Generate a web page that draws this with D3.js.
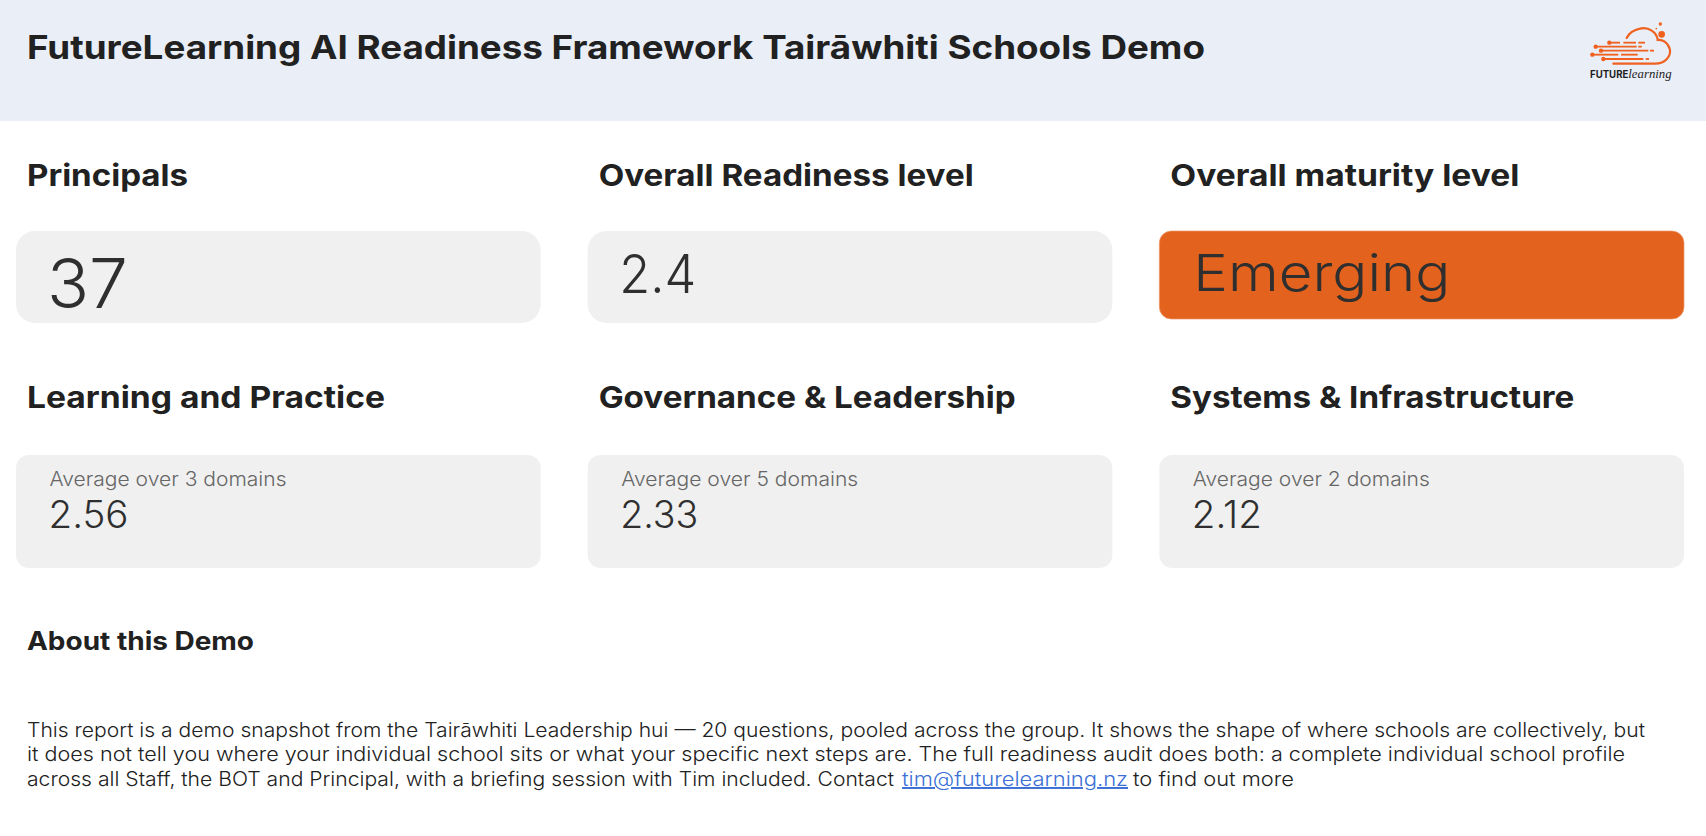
<!DOCTYPE html>
<html>
<head>
<meta charset="utf-8">
<script src="https://cdn.jsdelivr.net/npm/d3@7"></script>
<style>
html,body{margin:0;padding:0;background:#fff;overflow:hidden}
svg{display:block}
text{font-family:Inter,"Noto Sans",sans-serif;fill:#212121}
</style>
</head>
<body>
<script>
var width = 1706;
var height = 836;

// content
var pageTitle = "FutureLearning AI Readiness Framework Tairāwhiti Schools Demo";
var topTitles = ["Principals","Overall Readiness level","Overall maturity level"];
var topValues = ["37","2.4","Emerging"];
var pillarTitles = ["Learning and Practice","Governance & Leadership","Systems & Infrastructure"];
var pillarDomains = [3,5,2];
var pillarScores = [2.56,2.33,2.12];
var aboutTitle = "About this Demo";
var aboutLines = [
	"This report is a demo snapshot from the Tairāwhiti Leadership hui — 20 questions, pooled across the group. It shows the shape of where schools are collectively, but",
	"it does not tell you where your individual school sits or what your specific next steps are. The full readiness audit does both: a complete individual school profile",
	"across all Staff, the BOT and Principal, with a briefing session with Tim included. Contact"
];
var linkText = "tim@futurelearning.nz";
var afterLink = "to find out more";

// measured text widths, the font here is not the original one
var topTitleW = [161,375,349];
var topValueW = [81,77,257];
var pillarTitleW = [358,417,404];
var noteW = [237,237,237];
var scoreW = [80,78,70];
var aboutW = [1618,1598,867];

var svg = d3.select("body")
.append("svg")
.attr("width",width)
.attr("height",height);

var col = d3.scaleBand()
.domain([0,1,2])
.range([16,1684])
.paddingInner(0.0822);

function label(x,y,txt,size,weight,w,color){
	var t = svg.append("text")
	.attr("x",x)
	.attr("y",y)
	.attr("font-size",size)
	.attr("font-weight",weight)
	.text(txt);
	if(w){
		t.attr("textLength",w).attr("lengthAdjust","spacingAndGlyphs");
	}
	if(color){
		t.style("fill",color);
	}
	return t;
}

// header
svg.append("rect")
.attr("width",width)
.attr("height",121)
.attr("fill","#e9eef7");

label(27,59,pageTitle,33,700,1178);

// top row
topTitles.forEach(function(d,i){
	label(col(i)+11,186,d,30,700,topTitleW[i]);
});

svg.selectAll(".top")
.data(topValues)
.enter()
.append("rect")
.attr("class","top")
.attr("x",function(d,i){return col(i);})
.attr("y",231)
.attr("width",col.bandwidth())
.attr("height",function(d,i){return i == 2 ? 88 : 92;})
.attr("rx",function(d,i){return i == 2 ? 12 : 19;})
.attr("fill",function(d,i){return i == 2 ? "#e3621e" : "#f0f0f0";})
.attr("stroke",function(d,i){return i == 2 ? "#ee9a6c" : "none";})
.attr("stroke-width",0.7);

label(col(0)+31,308,topValues[0],68,300,topValueW[0],"#2f2f2f");
label(col(1)+31.5,293,topValues[1],54,300,topValueW[1],"#2f2f2f");
label(col(2)+34,291,topValues[2],51,300,topValueW[2],"#2f2f2f");

// pillars
pillarTitles.forEach(function(d,i){
	label(col(i)+11,408,d,30,700,pillarTitleW[i]);
});

svg.selectAll(".pillar")
.data(pillarScores)
.enter()
.append("rect")
.attr("class","pillar")
.attr("x",function(d,i){return col(i);})
.attr("y",455)
.attr("width",col.bandwidth())
.attr("height",113)
.attr("rx",13)
.attr("fill","#f0f0f0");

pillarScores.forEach(function(d,i){
	label(col(i)+33.5,486,"Average over "+pillarDomains[i]+" domains",19.5,300,noteW[i],"#666666");
	label(col(i)+32.5,528,d3.format(".2f")(d),38,300,scoreW[i],"#2f2f2f");
});

// about
label(27,650,aboutTitle,25,700,227);

var lineY = [737,761,786];
aboutLines.forEach(function(d,i){
	label(27,lineY[i],d,19.5,300,aboutW[i]);
});
label(902,lineY[2],linkText,19.5,300,226,"#3b6fd6")
.style("text-decoration","underline");
label(1133,lineY[2],afterLink,19.5,300,161);

// logo
var logo = svg.append("g")
.attr("transform","translate(1575,12) scale(0.3333)");

var orange = "#f0601e";

logo.append("path")
.attr("d","M115,155 L240,155 C272,155 290,130 284,110 C278,90 262,82 248,84 C246,60 220,44 195,50 C175,54 162,64 155,78")
.attr("fill","none")
.attr("stroke",orange)
.attr("stroke-width",6.5)
.attr("stroke-linecap","round");

var dots = [[260,67,10],[256,36,5],[244,50,2.5]];
logo.selectAll(".puff")
.data(dots)
.enter()
.append("circle")
.attr("class","puff")
.attr("cx",function(d){return d[0];})
.attr("cy",function(d){return d[1];})
.attr("r",function(d){return d[2];})
.attr("fill",orange);

var streaks = [
	[92,103,135,145,183,190,210],
	[104,62,185,190,200,0,0],
	[116,78,220,225,237,0,0],
	[128,52,130,138,188,0,0],
	[141,85,205,212,222,0,0]
];
streaks.forEach(function(s){
	logo.append("circle").attr("cx",s[1]).attr("cy",s[0]).attr("r",6.5).attr("fill",orange);
	for(var j = 1; j < 6; j += 2){
		if(s[j+1] > 0){
			logo.append("line")
			.attr("x1",s[j]).attr("x2",s[j+1])
			.attr("y1",s[0]).attr("y2",s[0])
			.attr("stroke",orange)
			.attr("stroke-width",5.5);
		}
	}
});

// two pieces so the bold part keeps its own width
logo.append("text")
.attr("x",45)
.attr("y",198)
.attr("font-size",29)
.attr("font-weight",700)
.attr("textLength",115)
.attr("lengthAdjust","spacingAndGlyphs")
.style("fill","#1d1d1d")
.text("FUTURE");
logo.append("text")
.attr("x",160)
.attr("y",198)
.attr("font-size",38)
.attr("textLength",130)
.attr("lengthAdjust","spacingAndGlyphs")
.style("font-family","'Liberation Serif',serif")
.style("font-style","italic")
.style("fill","#1d1d1d")
.text("learning");
</script>
</body>
</html>
